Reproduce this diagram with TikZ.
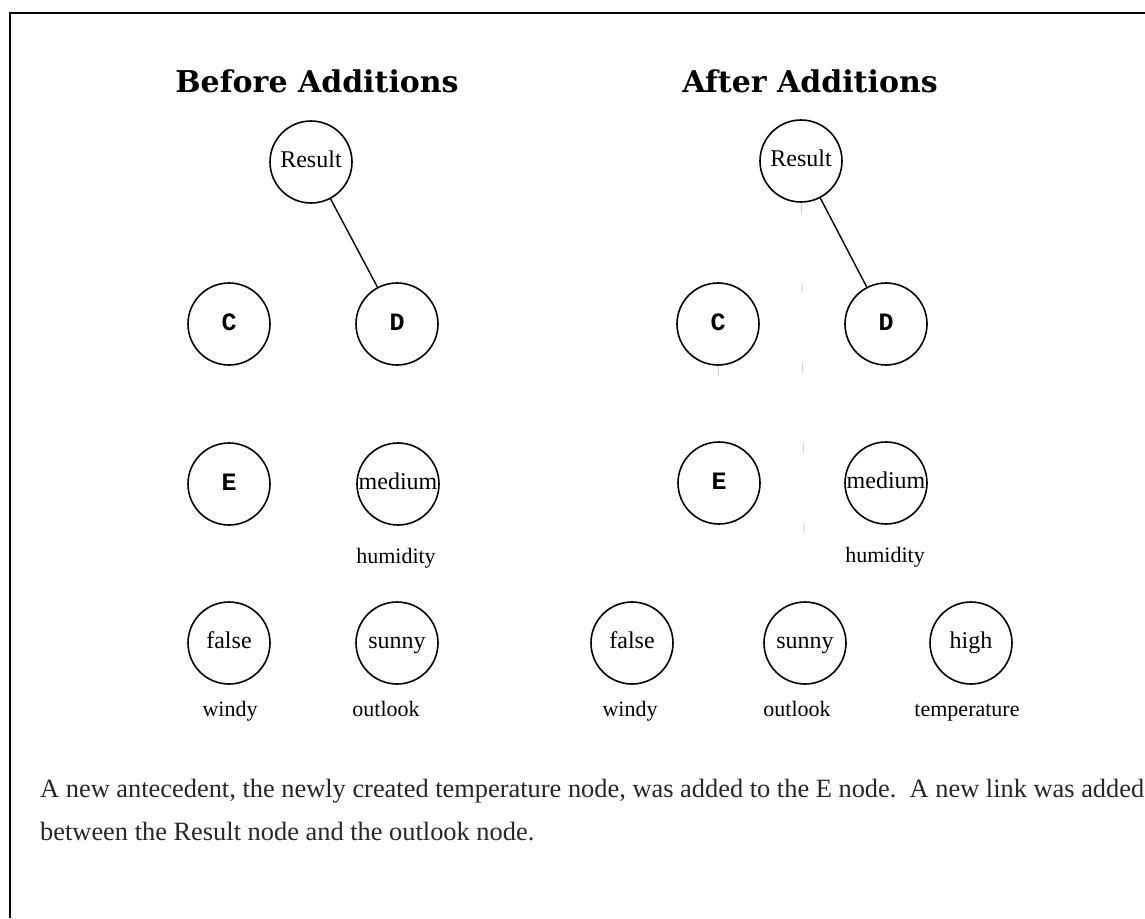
\documentclass[tikz,border=0pt]{standalone}
\usepackage{fontspec}
\setmainfont{Liberation Serif}
\newfontfamily\titlefont{DejaVu Serif}
\newfontfamily\monofont{Liberation Mono}
\begin{document}
\begin{tikzpicture}[x=1pt,y=-1pt,
  frame/.style={line width=2pt,black},
  vnode/.style={circle,draw,line width=1.6pt,minimum size=82pt,inner sep=0pt,
    font=\fontsize{24}{26}\selectfont,execute at begin node={\vphantom{Rdy}}},
  letternode/.style={vnode,font=\monofont\bfseries\fontsize{25}{27}\selectfont},
  lbl/.style={font=\fontsize{22}{24}\selectfont,inner sep=0pt,anchor=base},
  ttl/.style={font=\titlefont\bfseries\fontsize{30}{32}\selectfont,inner sep=0pt,anchor=base},
  edge/.style={line width=1.4pt},
  faint/.style={line width=1pt,gray!35,dash pattern=on 10pt off 70pt},
  captxt/.style={font=\fontsize{26.4}{28}\selectfont,anchor=base west,inner sep=0pt,text=black!85}
]
\useasboundingbox (0,0) rectangle (1145,918);
% frame (top and left only)
\coordinate (tl) at (10,13);
\coordinate (tr) at (1145,13);
\coordinate (bl) at (10,918);
\draw[frame] (tr) -- (tl) -- (bl);

% titles
\node[ttl] (t1) at (317,92) {Before Additions};
\node[ttl] (t2) at (810,92) {After Additions};

% left panel
\node[vnode] (r1) at (311,162) {Result};
\node[letternode] (c1) at (229,324) {C};
\node[letternode] (d1) at (397,324) {D};
\node[letternode] (e1) at (229,484) {E};
\node[vnode] (m1) at (398,484) {medium};
\node[lbl] (h1) at (396,563) {humidity};
\node[vnode] (f1) at (229,643) {false};
\node[vnode] (s1) at (397,643) {sunny};
\node[lbl] (w1) at (230,716) {windy};
\node[lbl] (o1) at (386,716) {outlook};
\draw[edge] (r1) -- (d1);

% right panel
\node[vnode] (r2) at (801,161) {Result};
\node[letternode] (c2) at (718,324) {C};
\node[letternode] (d2) at (886,324) {D};
\node[letternode] (e2) at (719,483) {E};
\node[vnode] (m2) at (886,483) {medium};
\node[lbl] (h2) at (885,562) {humidity};
\node[vnode] (f2) at (632,643) {false};
\node[vnode] (s2) at (805,643) {sunny};
\node[vnode] (g2) at (971,643) {high};
\node[lbl] (w2) at (630,716) {windy};
\node[lbl] (o2) at (797,716) {outlook};
\node[lbl] (p2) at (967,716) {temperature};
\draw[edge] (r2) -- (d2);
\draw[faint] (r2) -- (s2);
\draw[faint] (c2) -- (e2);

% caption
\node[captxt] (l1) at (40,797) {A new antecedent, the newly created temperature node, was added to the E node.\ \ A new link was added};
\node[captxt] (l2) at (40,840) {between the Result node and the outlook node.};
\end{tikzpicture}
\end{document}
